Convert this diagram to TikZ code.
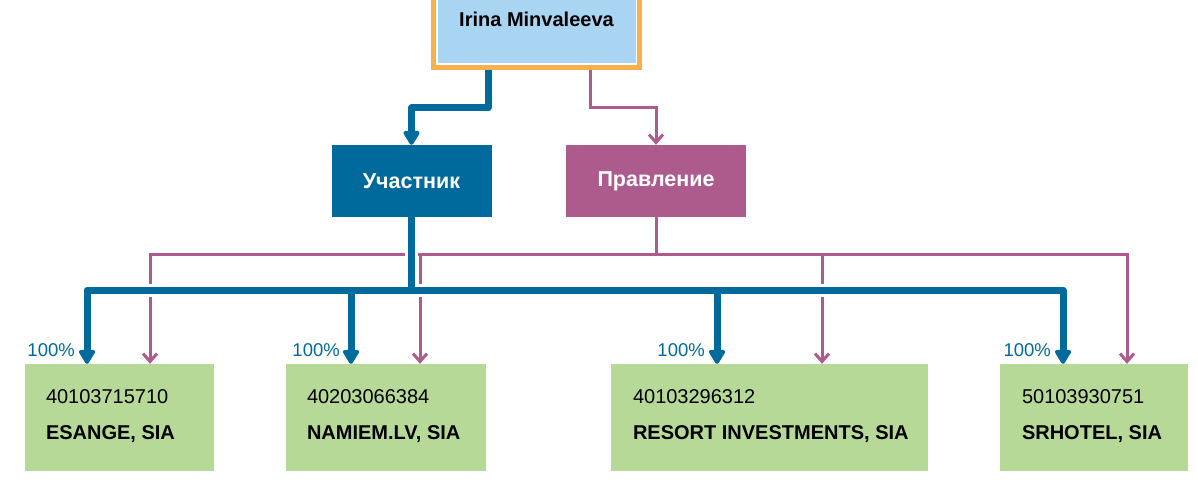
\documentclass[tikz,border=0pt]{standalone}
\usepackage{fontspec}
\setmainfont{Liberation Sans}
\usetikzlibrary{arrows.meta,calc}
\definecolor{cblue}{HTML}{006A9C}
\definecolor{cpink}{HTML}{AD5A8C}
\definecolor{cgreen}{HTML}{B7D998}
\definecolor{clight}{HTML}{A9D5F3}
\definecolor{corange}{HTML}{F8B04A}
\begin{document}
\begin{tikzpicture}[x=1pt,y=-1pt,
  bl/.style={draw=cblue, line width=7pt, line join=round},
  blarr/.style={bl, -{Triangle[length=16pt,width=18pt,round]}},
  pk/.style={draw=cpink, line width=3pt},
  pkarr/.style={pk, -{Straight Barb[length=8pt,width=14pt]}},
  gapline/.style={draw=white, line width=13pt},
  company/.style={fill=cgreen, inner sep=0pt, minimum height=107pt},
  role/.style={inner sep=0pt, minimum height=72pt, text=white, font=\fontsize{21.5}{25}\selectfont\bfseries},
  num/.style={anchor=base west, inner sep=0pt, font=\fontsize{20}{24}\selectfont},
  cname/.style={anchor=base west, inner sep=0pt, font=\fontsize{20}{24}\selectfont\bfseries},
  pct/.style={anchor=base east, text=cblue, font=\fontsize{18.5}{22}\selectfont, inner sep=0pt}
]
\clip (0,0) rectangle (1198,492);
\fill[white] (0,0) rectangle (1198,492);

% top person box
\node[draw=corange, line width=5pt, fill=clight, minimum width=206pt, minimum height=100pt, inner sep=0pt] (top) at (536.5,17.5) {};
\draw[white, line width=1.5pt] ($(top.north west)+(5.75,5.75)$) rectangle ($(top.south east)+(-5.75,-5.75)$);
\node[anchor=base, font=\fontsize{20}{24}\selectfont\bfseries, inner sep=0pt] (person) at (536.5,26.5) {Irina Minvaleeva};

% role boxes
\node[role, fill=cblue, minimum width=160pt] (u) at (411.5,181) {Участник};
\node[role, fill=cpink, minimum width=180pt] (p) at (656,181) {Правление};

% companies
\node[company, minimum width=189pt] (e1) at (119.5,417.5) {};
\node[company, minimum width=200pt] (e2) at (386,417.5) {};
\node[company, minimum width=317pt] (e3) at (769.5,417.5) {};
\node[company, minimum width=188pt] (e4) at (1094,417.5) {};

\node[num] (n1) at ($(e1.north west)+(21,40)$) {40103715710};
\node[cname] (c1) at ($(e1.north west)+(21,76)$) {ESANGE, SIA};
\node[num] (n2) at ($(e2.north west)+(21,40)$) {40203066384};
\node[cname] (c2) at ($(e2.north west)+(21,76)$) {NAMIEM.LV, SIA};
\node[num] (n3) at ($(e3.north west)+(22,40)$) {40103296312};
\node[cname] (c3) at ($(e3.north west)+(22,76)$) {RESORT INVESTMENTS, SIA};
\node[num] (n4) at ($(e4.north west)+(22,40)$) {50103930751};
\node[cname] (c4) at ($(e4.north west)+(22,76)$) {SRHOTEL, SIA};

% top connectors
\coordinate (tb) at (488,108);
\coordinate (tp) at (590,108);
\draw[blarr] (top.south -| tb) -- (tb) -| (u.north);
\draw[pkarr] (top.south -| tp) -- (tp) -| (p.north);

% pink connectors
\coordinate (pj1) at (150,254);
\coordinate (pj2) at (420,254);
\coordinate (pj3) at (822,254);
\coordinate (pj4) at (1127,254);
\draw[pkarr] (p.south) |- (pj1) -- (pj1 |- e1.north);
\draw[pkarr] (p.south) |- (pj2) -- (pj2 |- e2.north);
\draw[pkarr] (p.south) |- (pj3) -- (pj3 |- e3.north);
\draw[pkarr] (p.south) |- (pj4) -- (pj4 |- e4.north);

% blue connectors
\coordinate (bj1) at (87,290);
\coordinate (bj2) at (351,290);
\coordinate (bj3) at (717,290);
\coordinate (bj4) at (1063,290);
\draw[gapline] (u.south) -- (u.south |- bj1);
\draw[gapline] (bj1) -- (bj4);
\draw[blarr] (u.south) |- (bj1) -- (bj1 |- e1.north);
\draw[blarr] (u.south) |- (bj2) -- (bj2 |- e2.north);
\draw[blarr] (u.south) |- (bj3) -- (bj3 |- e3.north);
\draw[blarr] (u.south) |- (bj4) -- (bj4 |- e4.north);

% percentages
\node[pct] (l1) at (75,356) {100\%};
\node[pct] (l2) at (340,356) {100\%};
\node[pct] (l3) at (705,356) {100\%};
\node[pct] (l4) at (1051,356) {100\%};
\end{tikzpicture}
\end{document}
